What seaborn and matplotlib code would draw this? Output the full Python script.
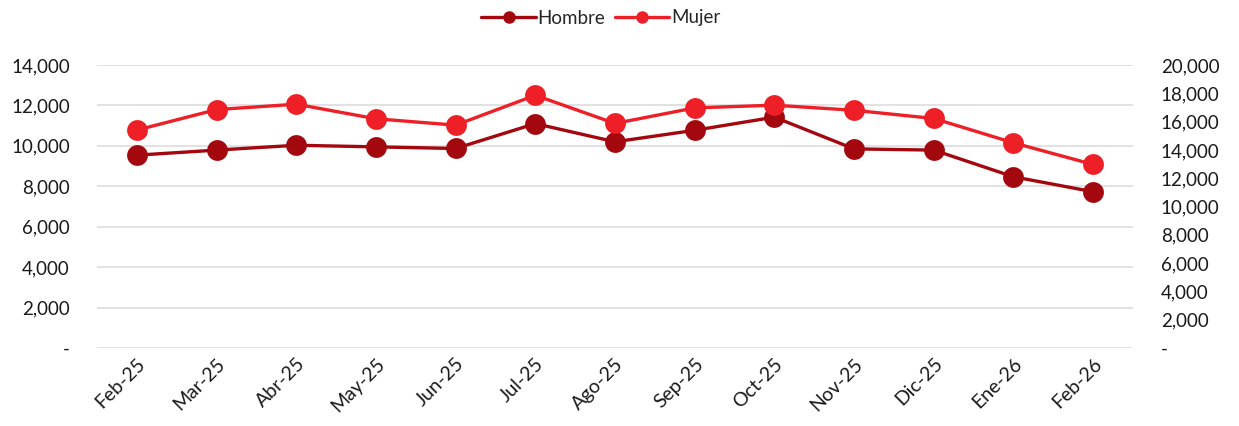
import matplotlib
matplotlib.use("Agg")
import matplotlib.pyplot as plt
import seaborn as sns
import pandas as pd
from matplotlib.ticker import FuncFormatter, MultipleLocator
from matplotlib.lines import Line2D

months = ["Feb-25", "Mar-25", "Abr-25", "May-25", "Jun-25", "Jul-25", "Ago-25",
          "Sep-25", "Oct-25", "Nov-25", "Dic-25", "Ene-26", "Feb-26"]
hombre = [9540, 9790, 10030, 9950, 9870, 11100, 10200, 10770, 11420, 9850, 9790, 8470, 7730]
mujer = [15400, 16850, 17230, 16200, 15750, 17860, 15870, 16970, 17160, 16800, 16220, 14500, 12970]

sns.set_theme(style="white")
plt.rcParams['font.family'] = ['Lato', 'DejaVu Sans']

c_h = "#A3080F"
c_m = "#EE1F26"
grid_c = "#E2E2E2"

df = pd.DataFrame({"mes": months, "Hombre": hombre, "Mujer": mujer})

fig = plt.figure(figsize=(12.39, 4.26), dpi=100)
ax = fig.add_axes([97/1239, 1-348/426, (1133-97)/1239, (348-65)/426])
ax2 = ax.twinx()

sns.lineplot(data=df, x="mes", y="Hombre", ax=ax, color=c_h, lw=2.4, marker="o",
             markersize=15, markeredgewidth=0, sort=False, label="Hombre", legend=False, zorder=3)
sns.lineplot(data=df, x="mes", y="Mujer", ax=ax2, color=c_m, lw=2.4, marker="o",
             markersize=15, markeredgewidth=0, sort=False, label="Mujer", legend=False, zorder=3)

fmt = FuncFormatter(lambda v, p: "-" if v == 0 else f"{int(v):,}")
ax.set_ylim(0, 14000)
ax.yaxis.set_major_locator(MultipleLocator(2000))
ax.yaxis.set_major_formatter(fmt)
ax2.set_ylim(0, 20000)
ax2.yaxis.set_major_locator(MultipleLocator(2000))
ax2.yaxis.set_major_formatter(fmt)
ax.set_xlim(-0.5, len(months) - 0.5)

ax.grid(axis="y", color=grid_c, lw=1.4)
ax.set_axisbelow(True)
for a in (ax, ax2):
    for s in a.spines.values():
        s.set_visible(False)
    a.set_xlabel("")
    a.set_ylabel("")
    a.tick_params(length=0, labelsize=13.5, colors="#1a1a1a")
ax.tick_params(axis="y", pad=19.5)
ax2.tick_params(axis="y", pad=20)
ax.tick_params(axis="x", pad=5, labelsize=14)
for lbl in ax.get_xticklabels():
    lbl.set_rotation(45)
    lbl.set_ha("right")
    lbl.set_rotation_mode("anchor")

handles = [Line2D([], [], color=c_h, lw=2.4, marker="o", markersize=9, markeredgewidth=0),
           Line2D([], [], color=c_m, lw=2.4, marker="o", markersize=9, markeredgewidth=0)]
fig.legend(handles, ["Hombre", "Mujer"], loc="center", bbox_to_anchor=(0.485, 1-18/426),
           ncol=2, frameon=False, fontsize=13.5, handlelength=2.9, handletextpad=0.1,
           columnspacing=0.5)

fig.savefig("out.png", dpi=100)
